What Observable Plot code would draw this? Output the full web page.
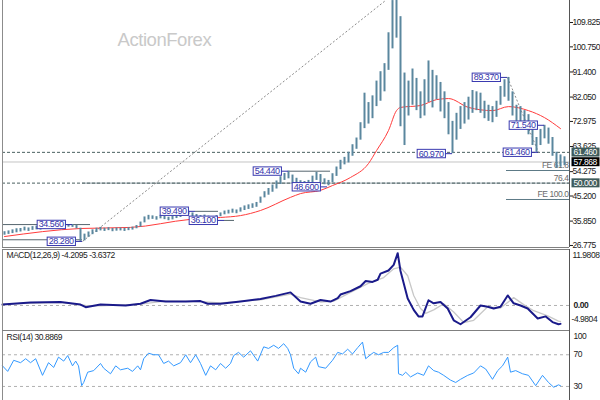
<!DOCTYPE html>
<html>
<head>
<meta charset="utf-8">
<script src="https://cdn.jsdelivr.net/npm/d3@7"></script>
<script src="https://cdn.jsdelivr.net/npm/@observablehq/plot@0.6"></script>
<style>
  html, body { margin: 0; padding: 0; background: #ffffff; }
  #chart { position: relative; width: 600px; height: 400px; overflow: hidden; background: #fff; }
  #chart svg { display: block; }
  #chart svg text { letter-spacing: -0.45px; }
</style>
</head>
<body>
<div id="chart"></div>
<script>
// ---------- DATA ----------
const barLow = [30.6,30.9,31.2,31.5,31.8,32.2,32.0,32.4,32.6,32.5,
  32.8,33.0,32.7,33.1,33.2,33.4,33.6,33.5,33.0,28.28,
  28.5,29.8,30.8,31.6,32.2,32.0,32.3,31.9,32.1,32.2,
  32.0,32.3,32.5,33.0,33.6,35.2,36.3,36.5,36.2,36.7,
  36.4,36.0,36.3,36.8,37.2,37.9,38.2,37.5,37.0,36.6,
  36.8,36.5,36.1,36.3,37.5,38.2,38.5,38.8,38.6,39.2,
  39.8,40.2,40.6,41.0,42.5,44.5,45.5,46.6,47.8,49.5,
  51.0,51.6,50.0,48.9,48.6,48.9,49.2,49.8,51.0,50.2,
  49.4,49.0,50.2,52.5,55.0,56.8,57.5,60.0,62.6,66.0,
  70.3,72.0,74.0,78.5,80.5,84.0,92.0,100.0,104.0,71.0,
  64.0,75.0,79.0,77.0,74.0,75.0,80.0,78.0,81.0,76.5,
  74.0,68.0,60.97,66.0,70.0,72.0,73.5,76.0,77.0,76.0,
  74.0,73.0,72.5,74.5,79.0,82.0,80.5,75.0,73.0,72.0,
  70.5,68.0,64.0,61.46,64.0,66.5,64.5,60.0,55.5,56.0,
  56.5];
const barHigh = [31.9,32.2,32.6,33.0,33.1,33.6,33.3,33.8,34.0,33.7,
  34.2,34.3,33.9,34.4,34.1,34.3,34.5,34.56,34.2,33.2,
  31.0,31.8,32.6,33.2,33.5,33.2,33.4,33.1,33.3,33.3,
  33.2,33.4,33.6,34.2,35.5,37.4,38.0,37.8,37.5,38.0,
  37.6,37.3,37.6,38.2,38.7,39.3,39.49,38.9,38.3,37.9,
  38.1,37.7,37.4,37.9,38.9,39.6,39.9,40.3,40.0,40.8,
  41.5,41.9,42.3,42.8,44.8,46.8,48.0,49.3,50.8,52.4,
  53.6,54.44,53.0,51.8,50.9,50.6,51.0,52.6,54.0,53.2,
  51.6,51.0,53.5,56.0,58.5,59.6,61.5,64.3,66.8,72.5,
  83.5,80.0,82.5,88.0,91.5,94.5,106.0,118.0,125.0,112.0,
  91.0,88.0,92.5,89.0,84.0,88.5,95.5,92.0,90.0,87.5,
  84.0,80.0,73.0,76.0,78.5,80.0,82.0,84.5,84.0,83.5,
  80.5,79.0,78.5,80.5,86.0,88.5,89.37,84.0,79.0,78.5,
  77.0,75.5,71.5,67.0,70.0,71.54,70.5,67.0,61.5,60.5,
  59.8];

// moving average (read at selected bars)
const maIdx = [0,19,31.5,46.5,54,59,64,71.5,74,79,82,86.5,91,93,96,98,99,104,108,111,116,122,126,131,135,139];
const maVal = [30.1,33.1,33.5,36.5,37.2,37.9,39.8,44.7,46.1,47.3,49.1,52.1,57.3,62.1,69.6,77.0,78.2,78.9,81.1,81.5,78.2,77.0,78.5,77.0,74.4,70.3];

// MACD main & signal
const macdIdx = [-0.5,6.5,14,16.5,19,20.3,24,30.3,34,36.5,40.3,45.3,49,50.8,54,59,64,67.8,71.5,74,76.5,79,81.5,83.3,84,86.5,89,90.3,92,93.3,94,96,97.3,98.3,99,100.8,102.3,103.5,104.5,106,107.3,109,110.8,112.3,114,116.5,119,120.8,122.3,124,125.8,127.3,129,130.8,133.3,135.3,137,138.5,139];
const macdVal = [0.2,0.7,0.8,0.5,0.2,-0.4,0.2,0.0,0.4,1.25,0.9,0.9,1.0,0.4,0.4,0.9,1.5,2.2,3.0,0.9,0.4,1.25,0.9,1.7,2.5,3.3,4.4,5.6,5.4,5.9,7.3,8.0,9.3,11.98,7.9,1.6,-1.0,-2.5,-2.5,1.2,0.5,0.8,-0.7,-3.4,-4.3,-2.7,0.0,-0.3,-0.7,-0.3,2.3,0.5,0.0,-0.7,-3.0,-2.5,-3.8,-4.3,-4.21];
const sigIdx = [-0.5,14,20.3,24,34,40,49,54,64,71.5,74,79,82.3,86.5,90.8,94.8,97.3,99,100.8,102.3,104,105.3,107.3,109.8,112.3,114.8,117.3,120.8,124,127.3,129.8,132.3,135.8,138.5,139];
const sigVal = [0.3,0.7,0.0,-0.1,0.3,1.0,0.9,0.6,1.3,2.6,1.8,0.8,1.0,3.0,5.0,6.4,8.4,8.8,6.8,2.3,-0.7,-1.8,-1.0,0.4,-1.5,-3.9,-3.4,-0.3,-0.6,1.8,0.2,-1.2,-2.4,-3.6,-3.64];

// RSI(14)
const rsiIdx = [-0.5,0.8,2.3,4,5.3,6.5,7.8,9.5,11,12.3,13.5,14.8,15.8,17,17.8,18.5,19.3,19.8,20.8,22.3,24,24.8,26.5,27.8,29,30.8,32,33.3,34,34.8,36,37.3,38.5,39.8,41,42.3,44,45.3,46.5,47.8,49,50.3,51.5,52.8,54,55.3,56.5,57.3,58.5,59.8,61.5,63.3,64.8,66,67.3,68.5,69.8,70.8,71.5,72.3,73.5,74,75.3,76.5,77.8,78.5,80.3,82,83.3,84.5,85.8,87,88.3,89.5,90.3,91.5,92.3,93.5,94.8,96,97.3,98.3,98.5,99.5,100.3,101.5,103.3,104.8,106,107.3,108.5,109.8,111.5,112.8,114,115.8,117.3,119,120.3,122,123.3,124.5,125.8,126.5,127.8,129.5,131,132.8,134.5,136,137.3,138.5,139];
const rsiVal = [56,49,63,60,65,60,65,44,60,54,67,62,69,56,62,56,31,35,48,50,59,53,46,56,51,53,49,56,51,65,72,70,70,59,62,56,60,70,60,70,59,44,56,51,59,53,59,69,73,67,75,62,80,78,82,78,84,78,70,53,46,53,48,61,67,55,53,63,73,71,77,71,79,86,65,70,73,70,73,73,79,82,46,44,48,42,47,44,56,50,48,44,38,35,39,44,47,56,52,39,50,56,67,48,50,46,44,31,44,35,29,32,30.89];

// pivot labels
const lblText  = ["34.560","28.280","39.490","36.100","54.440","48.600","60.970","89.370","71.540","61.460"];
const lblPrice = [34.56,28.28,39.49,36.1,54.44,48.6,60.97,89.37,71.54,61.46];
const lblPivot = [17,19.5,47.75,55,71,80.75,112,125.75,135,133.5];

// support / resistance segments (price, from bar, to bar)
const segPrice = [34.56,28.9,54.44,39.49,36.1];
const segFrom  = [-0.5,-0.5,71,47.75,55];
const segTo    = [21.5,19.5,81.5,53.5,57.5];

// fibonacci expansion levels
const feText  = ["FE 61.8","76.4","FE 100.0"];
const feLevel = [54.7,50.0,43.9];
const feFrom  = 125.5;

// trend lines (dotted)
const trendX1 = [19.5,125.75];
const trendY1 = [28.28,89.37];
const trendX2 = [95.25,133.5];
const trendY2 = [118.0,61.46];

// price levels
const dashLevels = [61.46, 50.0];
const lastPrice = 57.868;
const priceTicks = [109.825,100.75,91.4,82.05,72.975,63.625,54.275,45.2,35.85,26.775];
const boxDark = [61.46, 50.0];
const boxBlack = [57.868];

const macdTitle = "MACD(12,26,9) -4.2095 -3.6372";
const rsiTitle = "RSI(14) 30.8869";
const watermark = "ActionForex";

// ---------- CHART ----------
const xDomain = [-0.5, 141.25];
const FONT = "'Liberation Sans',Arial,sans-serif";
const style = {fontFamily: FONT, fontSize: "8.5px", background: "transparent", color: "#1a1a1a"};

const bars = barLow.map((lo, i) => ({i, lo, hi: barHigh[i]}));
const ma = maIdx.map((i, k) => ({i, v: maVal[k]}));
const macd = macdIdx.map((i, k) => ({i, v: macdVal[k]}));
const sig = sigIdx.map((i, k) => ({i, v: sigVal[k]}));
const rsi = rsiIdx.map((i, k) => ({i, v: rsiVal[k]}));
const lbls = lblText.map((t, k) => ({t, p: lblPrice[k], x: lblPivot[k]}));
const segs = segPrice.map((p, k) => ({p, a: segFrom[k], b: segTo[k]}));
const fes = feText.map((t, k) => ({t, p: feLevel[k]}));
const trends = trendX1.map((x1, k) => ({x1, y1: trendY1[k], x2: trendX2[k], y2: trendY2[k]}));
const xMax = xDomain[1], xMin = xDomain[0];

const LBL_FILL = "#3333aa", BOXD_FILL = "#ffffff", BOXB_FILL = "#fefefe";

const yMain = [26.02, 118.02];
const mainSvg = Plot.plot({
  width: 600, height: 249, marginLeft: 2, marginRight: 31, marginTop: 0, marginBottom: 2,
  style,
  x: {domain: xDomain, axis: null},
  y: {domain: yMain, axis: "right", ticks: priceTicks, tickFormat: d => d.toFixed(3), tickSize: 3, tickPadding: 0, label: null},
  marks: [
    Plot.text([watermark], {text: d => d, frameAnchor: "top-left", dx: 115, dy: 32, textAnchor: "start", fontSize: 18.5, fill: "#c9c9c9"}),
    Plot.ruleY([lastPrice], {y: d => d, stroke: "#c4c4c4"}),
    Plot.ruleY([50.0], {y: d => d, x1: () => 19.5, x2: () => xMax, stroke: "#8d9ba3"}),
    Plot.ruleY(dashLevels, {y: d => d, stroke: "#4a6060", strokeDasharray: "3,2"}),
    Plot.ruleY(segs, {y: "p", x1: "a", x2: "b", stroke: "#56666e"}),
    Plot.ruleY(fes.filter(d => d.t !== "76.4"), {y: "p", x1: () => feFrom, x2: () => xMax, stroke: "#5d7a86"}),
    Plot.text(fes, {x: () => xMax, y: "p", text: "t", textAnchor: "end", dx: -1, dy: -5, fill: "#6a6a6a", fontSize: 8.5}),
    Plot.link(trends, {x1: "x1", y1: "y1", x2: "x2", y2: "y2", stroke: "#8a8a8a", strokeDasharray: "2,2", clip: true}),
    Plot.line(ma, {x: "i", y: "v", stroke: "#ff3c3c", strokeWidth: 1, curve: "monotone-x", clip: true}),
    Plot.ruleX(bars, {x: "i", y1: "lo", y2: "hi", stroke: "#5a879e", strokeWidth: 2, clip: true}),
    Plot.ruleY(lbls, {y: "p", x1: d => d.x - 2, x2: "x", stroke: "#3030a8"}),
    Plot.text(lbls, {x: "x", y: "p", text: "t", textAnchor: "end", dx: -9, fill: LBL_FILL, fontSize: 9}),
    Plot.ruleX([xMin], {x: d => d, stroke: "#8c8c8c"}),
    Plot.ruleX([xMax], {x: d => d, stroke: "#555"}),
    Plot.ruleY([yMain[0]], {y: d => d, stroke: "#808080"}),
    Plot.text(boxDark, {x: () => xMax, y: d => d, text: d => d.toFixed(3), textAnchor: "start", dx: 4, fill: BOXD_FILL, fontSize: 8.5}),
    Plot.text(boxBlack, {x: () => xMax, y: d => d, text: d => d.toFixed(3), textAnchor: "start", dx: 4, fill: BOXB_FILL, fontSize: 8.5})
  ]
});

const yMacd = [-5.73, 12.82];
const macdSvg = Plot.plot({
  width: 600, height: 81, marginLeft: 2, marginRight: 31, marginTop: 0, marginBottom: 0,
  style,
  x: {domain: xDomain, axis: null},
  y: {domain: yMacd, axis: null},
  marks: [
    Plot.ruleY([0], {y: d => d, stroke: "#b0b0b0", strokeDasharray: "3,3"}),
    Plot.line(sig, {x: "i", y: "v", stroke: "#c8c8c8", strokeWidth: 1.3}),
    Plot.line(macd, {x: "i", y: "v", stroke: "#1a1a8a", strokeWidth: 2}),
    Plot.text([macdTitle], {text: d => d, frameAnchor: "top-left", dx: 4, dy: 2, textAnchor: "start", lineAnchor: "top", fill: "#222", fontSize: 8.5}),
    Plot.ruleX([xMin], {x: d => d, stroke: "#8c8c8c"}),
    Plot.ruleX([xMax], {x: d => d, stroke: "#555"}),
    Plot.ruleY([yMacd[1]], {y: d => d, stroke: "#808080"}),
    Plot.ruleY([yMacd[0]], {y: d => d, stroke: "#808080"}),
    Plot.text([11.9808], {x: () => xMax, y: d => d, text: d => d.toFixed(4), textAnchor: "start", dx: 3, dy: 2, fill: "#222"}),
    Plot.text([0], {x: () => xMax, y: d => d, text: d => d.toFixed(2), textAnchor: "start", dx: 4, fill: "#222", fontWeight: "bold"}),
    Plot.text([-4.9804], {x: () => xMax, y: d => d, text: d => d.toFixed(4), textAnchor: "start", dx: 2, dy: -7.5, fill: "#222"})
  ]
});

const yRsi = [12.25, 100.63];
const rsiSvg = Plot.plot({
  width: 600, height: 70, marginLeft: 2, marginRight: 31, marginTop: 0, marginBottom: 0,
  style,
  x: {domain: xDomain, axis: null},
  y: {domain: yRsi, axis: null},
  marks: [
    Plot.ruleY([70, 30], {y: d => d, stroke: "#b0b0b0", strokeDasharray: "3,3"}),
    Plot.line(rsi, {x: "i", y: "v", stroke: "#3399ff", strokeWidth: 1}),
    Plot.text([rsiTitle], {text: d => d, frameAnchor: "top-left", dx: 4, dy: 3, textAnchor: "start", lineAnchor: "top", fill: "#222", fontSize: 8.5}),
    Plot.ruleX([xMin], {x: d => d, stroke: "#8c8c8c"}),
    Plot.ruleX([xMax], {x: d => d, stroke: "#555"}),
    Plot.ruleY([yRsi[1]], {y: d => d, stroke: "#808080"}),
    Plot.text([100], {x: () => xMax, y: d => d, text: d => String(d), textAnchor: "start", dx: 4, dy: 5.5, fill: "#222"}),
    Plot.text([70, 30], {x: () => xMax, y: d => d, text: d => String(d), textAnchor: "start", dx: 4, fill: "#222"})
  ]
});

const chart = document.getElementById("chart");
chart.append(mainSvg, macdSvg, rsiSvg);

function boxify(svg, groupFill, fill, stroke, px, py) {
  const texts = Array.from(svg.querySelectorAll("text")).filter(t => {
    const g = t.parentNode;
    const f = (t.getAttribute("fill") || (g && g.getAttribute && g.getAttribute("fill")) || "").toLowerCase();
    return f === groupFill;
  });
  texts.forEach(t => {
    const b = t.getBBox();
    const r = document.createElementNS("http://www.w3.org/2000/svg", "rect");
    r.setAttribute("x", b.x - px);
    r.setAttribute("y", b.y - py);
    r.setAttribute("width", b.width + 2 * px);
    r.setAttribute("height", b.height + 2 * py);
    r.setAttribute("fill", fill);
    if (stroke) { r.setAttribute("stroke", stroke); r.setAttribute("stroke-width", 1); }
    const tr = t.getAttribute("transform");
    if (tr) r.setAttribute("transform", tr);
    t.parentNode.insertBefore(r, t);
  });
}
boxify(mainSvg, LBL_FILL, "#ffffff", "#3a3ab0", 1.5, -0.8);
boxify(mainSvg, BOXD_FILL, "#3f5c5c", null, 2, -0.5);
boxify(mainSvg, BOXB_FILL, "#000000", null, 2, -0.5);
</script>
</body>
</html>
